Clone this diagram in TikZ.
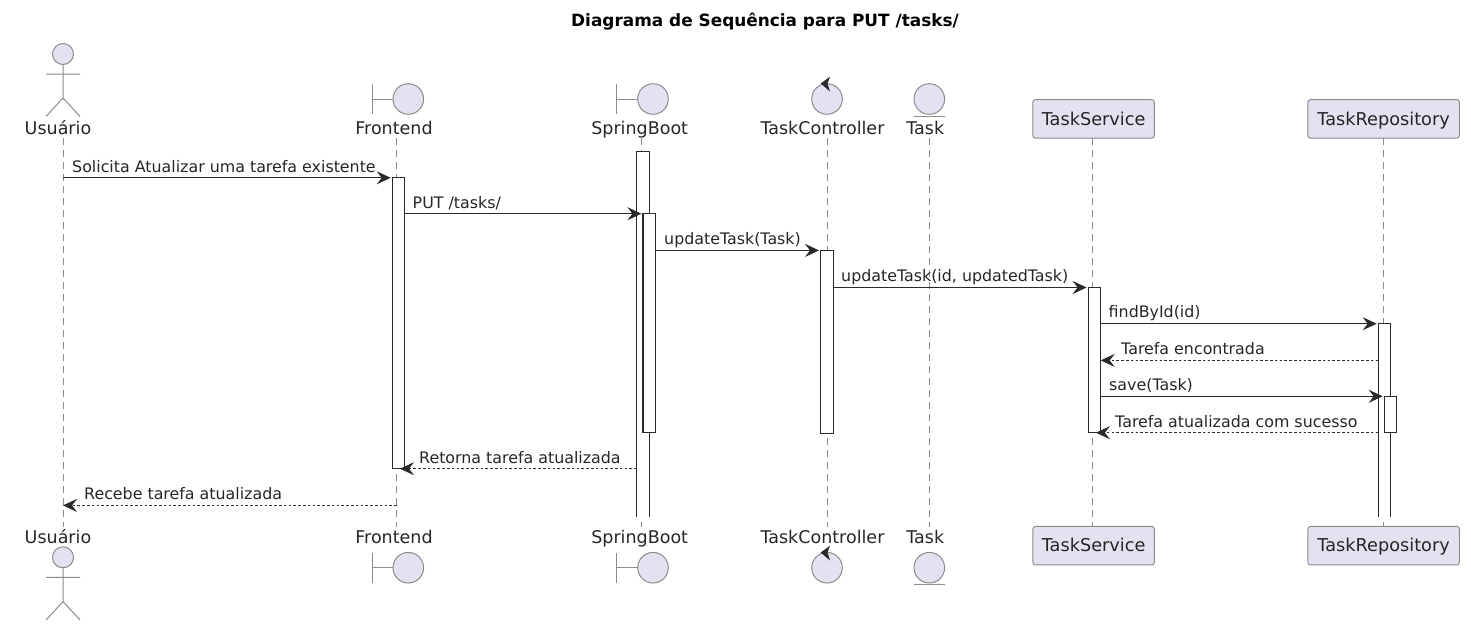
\documentclass[tikz,border=0pt]{standalone}
\usepackage{fontspec}
\setmainfont{DejaVu Sans}
\usetikzlibrary{arrows.meta}
\definecolor{partfill}{HTML}{E2E2F0}
\definecolor{partline}{HTML}{8C8C8C}
\definecolor{inkline}{HTML}{2A2A2A}
\tikzset{
	partbox/.style={draw=partline, fill=partfill, line width=1pt, rounded corners=2.5pt, inner sep=0pt, minimum height=38.5pt, text height=16.2pt, text depth=4pt, font=\fontsize{17.7}{20}\selectfont, text=black!85},
	partname/.style={anchor=base, inner sep=0pt, font=\fontsize{17.5}{20}\selectfont, text=black!85},
	parthead/.style={draw=partline, fill=partfill, line width=1pt},
	partmark/.style={draw=partline, line width=1pt},
	lifeline/.style={draw=partline, line width=1pt, dash pattern=on 7pt off 5pt},
	activebar/.style={fill=white, inner sep=0pt, outer sep=0pt, minimum width=12.6pt},
	barline/.style={draw=inkline, line width=1.2pt},
	msgcall/.style={->, draw=inkline, line width=1.2pt},
	msgback/.style={->, draw=inkline, line width=1.1pt, dash pattern=on 2.6pt off 2.2pt},
	msgtext/.style={anchor=base west, inner sep=0pt, font=\fontsize{15.85}{18}\selectfont, text=black!85}
}
\begin{document}
\begin{tikzpicture}[x=1pt, y=-1pt, >={Stealth[length=14pt, width=13pt, inset=5pt]}]
	\useasboundingbox (0,0) rectangle (1471,624);
	\node (title) [anchor=base, inner sep=0pt, font=\bfseries\fontsize{16.9}{20}\selectfont] at (765,26.7) {Diagrama de Sequência para PUT /tasks/};

	% lifelines
	\coordinate (usuario) at (63,138);
	\coordinate (usuarioEnd) at (63,527);
	\coordinate (frontend) at (396.7,138);
	\coordinate (frontendEnd) at (396.7,527);
	\coordinate (springboot) at (641.7,138);
	\coordinate (springbootEnd) at (641.7,527);
	\coordinate (controller) at (827,138);
	\coordinate (controllerEnd) at (827,527);
	\coordinate (task) at (929.3,138);
	\coordinate (taskEnd) at (929.3,527);
	\coordinate (service) at (1092.7,138);
	\coordinate (serviceEnd) at (1092.7,527);
	\coordinate (repository) at (1383,138);
	\coordinate (repositoryEnd) at (1383,527);
	\draw[lifeline] (usuario) -- (usuarioEnd);
	\draw[lifeline] (frontend) -- (frontendEnd);
	\draw[lifeline] (springboot) -- (springbootEnd);
	\draw[lifeline] (controller) -- (controllerEnd);
	\draw[lifeline] (task) -- (taskEnd);
	\draw[lifeline] (service) -- (serviceEnd);
	\draw[lifeline] (repository) -- (repositoryEnd);

	% top participants
	\node (usuarioTop) [partname] at (58,134.5) {Usuário};
	\node (frontendTop) [partname] at (394,134.5) {Frontend};
	\node (springbootTop) [partname] at (639.7,134.5) {SpringBoot};
	\node (controllerTop) [partname] at (822.5,134.5) {TaskController};
	\node (taskTop) [partname] at (925.3,134.5) {Task};
	\node (serviceTop) [partbox, minimum width=121.3pt] at (1093.6,118.9) {TaskService};
	\node (repositoryTop) [partbox, minimum width=151.3pt] at (1383.6,118.9) {TaskRepository};
	\draw[parthead] (63,54) circle (10.5);
	\draw[partmark] (63,64.5) -- (63,98) (46,74) -- (80,74) (46,116.5) -- (63,98) -- (80,116.5);
	\draw[partmark] (372,84) -- (372,114) (372,99) -- (393,99);
	\draw[parthead] (408.3,99) circle (15.3);
	\draw[partmark] (616.7,84) -- (616.7,114) (616.7,99) -- (638,99);
	\draw[parthead] (653,99) circle (15.3);
	\draw[parthead] (827,99) circle (15.3);
	\fill[inkline] (820.7,83.5) -- (830,76.7) -- (827.5,83.5) -- (830,91.5) -- cycle;
	\draw[parthead] (929.3,99) circle (15.3);
	\draw[partmark] (914,116.5) -- (945,116.5);

	% bottom participants
	\node (usuarioBot) [partname] at (58,543) {Usuário};
	\node (frontendBot) [partname] at (394,543) {Frontend};
	\node (springbootBot) [partname] at (639.7,543) {SpringBoot};
	\node (controllerBot) [partname] at (822.5,543) {TaskController};
	\node (taskBot) [partname] at (925.3,543) {Task};
	\node (serviceBot) [partbox, minimum width=121.3pt] at (1093.6,545.7) {TaskService};
	\node (repositoryBot) [partbox, minimum width=151.3pt] at (1383.6,545.7) {TaskRepository};
	\draw[parthead] (63,557.3) circle (10.5);
	\draw[partmark] (63,567.8) -- (63,601.5) (46,577.3) -- (80,577.3) (46,620) -- (63,601.5) -- (80,620);
	\draw[partmark] (372,552.7) -- (372,582.7) (372,567.7) -- (393,567.7);
	\draw[parthead] (408.3,567.7) circle (15.3);
	\draw[partmark] (616.7,552.7) -- (616.7,582.7) (616.7,567.7) -- (638,567.7);
	\draw[parthead] (653,567.7) circle (15.3);
	\draw[parthead] (827,567.7) circle (15.3);
	\fill[inkline] (820.7,552.5) -- (830,545.7) -- (827.5,552.5) -- (830,560.5) -- cycle;
	\draw[parthead] (929.3,567.7) circle (15.3);
	\draw[partmark] (914,584.7) -- (945,584.7);

	% activation bars
	\node (frontendBar) [activebar, minimum height=291pt, anchor=north] at (398.5,177.8) {};
	\draw[barline] (frontendBar.north west) rectangle (frontendBar.south east);
	\node (springbootBar) [activebar, minimum height=365.4pt, anchor=north] at (643.1,151.3) {};
	\draw[barline] (springbootBar.south west) -- (springbootBar.north west) -- (springbootBar.north east) -- (springbootBar.south east);
	\node (springbootInner) [activebar, minimum height=219pt, anchor=north] at (649.2,213.7) {};
	\draw[barline] (springbootInner.north west) rectangle (springbootInner.south east);
	\node (controllerBar) [activebar, minimum height=182.7pt, anchor=north] at (826.8,250.4) {};
	\draw[barline] (controllerBar.north west) rectangle (controllerBar.south east);
	\node (serviceBar) [activebar, minimum height=145.4pt, anchor=north] at (1094.4,287.3) {};
	\draw[barline] (serviceBar.north west) rectangle (serviceBar.south east);
	\node (repositoryBar) [activebar, minimum height=193pt, anchor=north] at (1384.5,323.7) {};
	\draw[barline] (repositoryBar.south west) -- (repositoryBar.north west) -- (repositoryBar.north east) -- (repositoryBar.south east);
	\node (repositoryInner) [activebar, minimum height=36.4pt, anchor=north] at (1390.5,396.3) {};
	\draw[barline] (repositoryInner.north west) rectangle (repositoryInner.south east);

	% messages
	\coordinate (m1) at (0,177.8);
	\coordinate (m2) at (0,213.7);
	\coordinate (m3) at (0,250.4);
	\coordinate (m4) at (0,287.5);
	\coordinate (m5) at (0,323.7);
	\coordinate (m6) at (0,360.4);
	\coordinate (m7) at (0,396.3);
	\coordinate (m8) at (0,432.7);
	\coordinate (m9) at (0,468.7);
	\coordinate (m10) at (0,505.4);
	\draw[msgcall, shorten >=1.5pt] (usuario |- m1) -- (frontendBar.west |- m1);
	\draw[msgcall, shorten >=1.5pt] (frontendBar.east |- m2) -- (springbootInner.west |- m2);
	\draw[msgcall, shorten >=1.5pt] (springbootInner.east |- m3) -- (controllerBar.west |- m3);
	\draw[msgcall, shorten >=1.5pt] (controllerBar.east |- m4) -- (serviceBar.west |- m4);
	\draw[msgcall, shorten >=1.5pt] (serviceBar.east |- m5) -- (repositoryBar.west |- m5);
	\draw[msgback] (repositoryBar.west |- m6) -- (serviceBar.east |- m6);
	\draw[msgcall, shorten >=1.5pt] (serviceBar.east |- m7) -- (repositoryInner.west |- m7);
	\draw[msgback, shorten >=1.5pt] (repositoryBar.west |- m8) -- (serviceBar.center |- m8);
	\draw[msgback, shorten >=1.5pt] (springbootBar.west |- m9) -- (frontendBar.center |- m9);
	\draw[msgback] (frontend |- m10) -- (usuario |- m10);
	\node (t1) [msgtext] at (72,172) {Solicita Atualizar uma tarefa existente};
	\node (t2) [msgtext] at (412.5,208) {PUT /tasks/};
	\node (t3) [msgtext] at (664,244.3) {updateTask(Task)};
	\node (t4) [msgtext] at (841,281.7) {updateTask(id, updatedTask)};
	\node (t5) [msgtext] at (1108.5,317.7) {findById(id)};
	\node (t6) [msgtext] at (1121,354) {Tarefa encontrada};
	\node (t7) [msgtext] at (1109,390.3) {save(Task)};
	\node (t8) [msgtext] at (1115,427) {Tarefa atualizada com sucesso};
	\node (t9) [msgtext] at (419,463) {Retorna tarefa atualizada};
	\node (t10) [msgtext] at (84,499.3) {Recebe tarefa atualizada};
\end{tikzpicture}
\end{document}
